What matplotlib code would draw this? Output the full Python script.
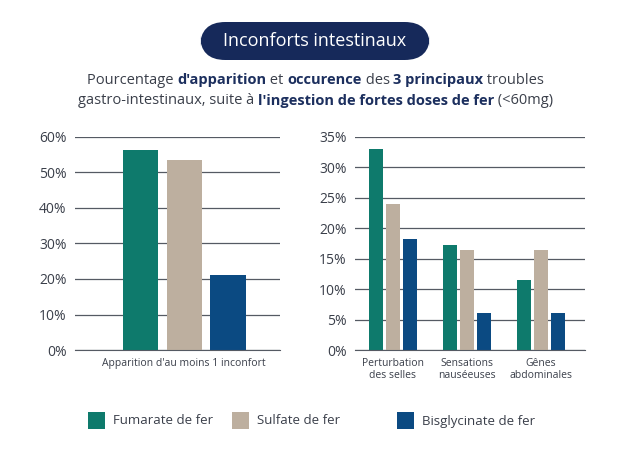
import matplotlib
matplotlib.use("Agg")
import matplotlib.pyplot as plt
from matplotlib.patches import FancyBboxPatch
import numpy as np

series = ["Fumarate de fer", "Sulfate de fer", "Bisglycinate de fer"]
colors = ["#0e7a6c", "#bdaf9f", "#0b4a82"]
left_cat = ["Apparition d'au moins 1 inconfort"]
left_vals = [56.3, 53.6, 21.0]
right_cat = ["Perturbation\ndes selles", "Sensations\nnauséeuses", "Gênes\nabdominales"]
fum = [33.0, 17.3, 11.5]
sul = [24.0, 16.5, 16.5]
bis = [18.2, 6.0, 6.0]
left_ticks = [0, 10, 20, 30, 40, 50, 60]
right_ticks = [0, 5, 10, 15, 20, 25, 30, 35]

FONT = "Open Sans"
TXT = "#3a3f4a"
W, H = 631, 457
fig = plt.figure(figsize=(W/100, H/100), dpi=100)

def style(ax, ticks):
    ax.set_ylim(0, ticks[-1])
    ax.set_yticks(ticks)
    ax.set_yticklabels([f"{t}%" for t in ticks], fontsize=10, color=TXT, family=FONT)
    ax.yaxis.grid(True, color="#555a63", lw=0.9)
    ax.set_axisbelow(True)
    for s in ax.spines.values():
        s.set_visible(False)
    ax.spines["bottom"].set_visible(True)
    ax.spines["bottom"].set_color("#555a63")
    ax.tick_params(length=0, pad=6)

axl = fig.add_axes([75/W, 1-350/H, 205/W, 213/H])
for i, v in enumerate(left_vals):
    axl.bar(i, v, width=0.8, color=colors[i])
axl.set_xlim(-1.48, 3.18)
style(axl, left_ticks)
axl.set_xticks([1])
axl.set_xticklabels(left_cat, fontsize=7.5, color=TXT, family=FONT)

axr = fig.add_axes([355/W, 1-350/H, 230/W, 213/H])
x = np.arange(len(right_cat))
for k, vals in enumerate([fum, sul, bis]):
    axr.bar(x + (k-1)*0.23, vals, width=0.19, color=colors[k])
axr.set_xlim(-0.51, 2.6)
style(axr, right_ticks)
axr.set_xticks(x)
axr.set_xticklabels(right_cat, fontsize=7.5, color=TXT, family=FONT, linespacing=1.1)

# title pill
pill = FancyBboxPatch((200/W, 22/H*0+1-60/H), 230/W, 38/H,
                      boxstyle="round,pad=0,rounding_size=0.04", transform=fig.transFigure,
                      fc="#16295a", ec="none", mutation_aspect=W/H)
fig.patches.append(pill)
fig.text(315/W, 1-41/H, "Inconforts intestinaux", ha="center", va="center",
         color="white", fontsize=13, family=FONT)

# subtitle with mixed weights
fig.canvas.draw()
r = fig.canvas.get_renderer()
def rich(parts, y):
    texts = []
    total = 0
    for s, b in parts:
        t = fig.text(0, y, s, fontsize=10.5, family=FONT, color="#1c2f5e" if b else TXT,
                     fontweight="bold" if b else "normal", va="center")
        w = t.get_window_extent(r).width
        texts.append((t, w)); total += w
    x0 = (W/2 - total/2)
    for t, w in texts:
        t.set_x(x0/W); x0 += w
rich([("Pourcentage ", 0), ("d'apparition", 1), (" et ", 0), ("occurence", 1), (" des ", 0),
      ("3 principaux", 1), (" troubles", 0)], 1-80/H)
rich([("gastro-intestinaux, suite à ", 0), ("l'ingestion de fortes doses de fer", 1),
      (" (<60mg)", 0)], 1-101/H)

# legend
for (lx, lab), c in zip([(88, series[0]), (232, series[1]), (397, series[2])], colors):
    fig.patches.append(plt.Rectangle((lx/W, 1-429/H), 17/W, 17/H, transform=fig.transFigure,
                                     fc=c, ec="none"))
    fig.text((lx+25)/W, 1-421/H, lab, fontsize=9.5, family=FONT, color=TXT, va="center")

fig.savefig("out.png", dpi=100)
